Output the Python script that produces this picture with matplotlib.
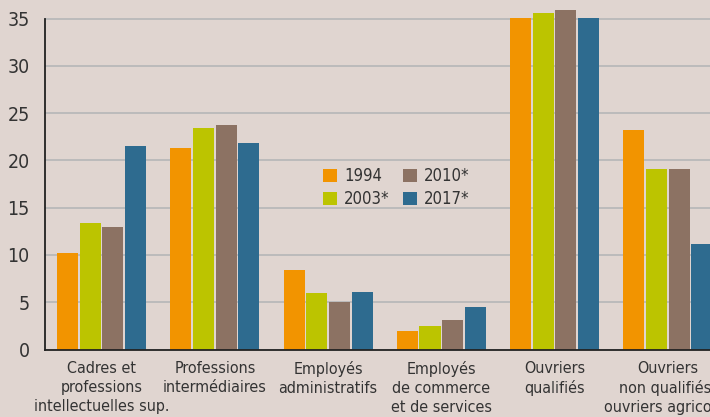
import numpy as np
import matplotlib
matplotlib.use('Agg')
from matplotlib import pyplot as plt

categories = ['Cadres et\nprofessions\nintellectuelles sup.',
              'Professions\nintermédiaires',
              'Employés\nadministratifs',
              'Employés\nde commerce\net de services',
              'Ouvriers\nqualifiés',
              'Ouvriers\nnon qualifiés,\nouvriers agricoles']
years = ['1994', '2003*', '2010*', '2017*']
v1994 = [10.2, 21.3, 8.4, 2.0, 35.1, 23.2]
v2003 = [13.4, 23.4, 6.0, 2.5, 35.6, 19.1]
v2010 = [13.0, 23.7, 5.0, 3.1, 35.9, 19.1]
v2017 = [21.5, 21.8, 6.1, 4.5, 35.1, 11.2]
colors = ['#f29400', '#bcc400', '#8c7263', '#2e6b8f']

plt.rcParams['font.family'] = ['DejaVu Sans']
plt.rcParams['font.stretch'] = 'condensed'
bg = '#e0d5d0'
txt = '#333333'

fig = plt.figure(figsize=(7.1, 4.17), dpi=100, facecolor=bg)
ax = fig.add_axes([45/710, 67.5/417, 665/710, 349.5/417], facecolor=bg)

x = np.arange(len(categories))
step = 0.2
width = 0.186
for k, (vals, lab) in enumerate(zip([v1994, v2003, v2010, v2017], years)):
    ax.bar(x + (k - 1.5) * step, vals, width, color=colors[k], label=lab, zorder=3)

ax.set_xlim(-0.5, 5.373)
ax.set_ylim(0, 36.96)
ax.set_yticks(range(0, 36, 5))
ax.set_xticks(x)
ax.set_xticklabels(categories, fontsize=11.5, color=txt, linespacing=1.33)
ax.tick_params(axis='y', length=0, pad=11, labelsize=14, labelcolor=txt)
ax.tick_params(axis='x', length=0, pad=8)
ax.yaxis.grid(True, color='#b9b9b9', linewidth=1.3, zorder=0)
for s in ['top', 'right']:
    ax.spines[s].set_visible(False)
ax.spines['left'].set_bounds(0, 35)
for s in ['left', 'bottom']:
    ax.spines[s].set_color('#222222')
    ax.spines[s].set_linewidth(1.3)
    ax.spines[s].set_zorder(4)

leg = ax.legend(ncol=2, loc='upper left', bbox_to_anchor=(0.408, 0.54), frameon=False,
                fontsize=12, handlelength=0.85, handleheight=0.85, handletextpad=0.4,
                columnspacing=0.8, labelspacing=0.28, borderaxespad=0)
for t in leg.get_texts():
    t.set_color(txt)

plt.savefig('out.png', dpi=100, facecolor=bg)
